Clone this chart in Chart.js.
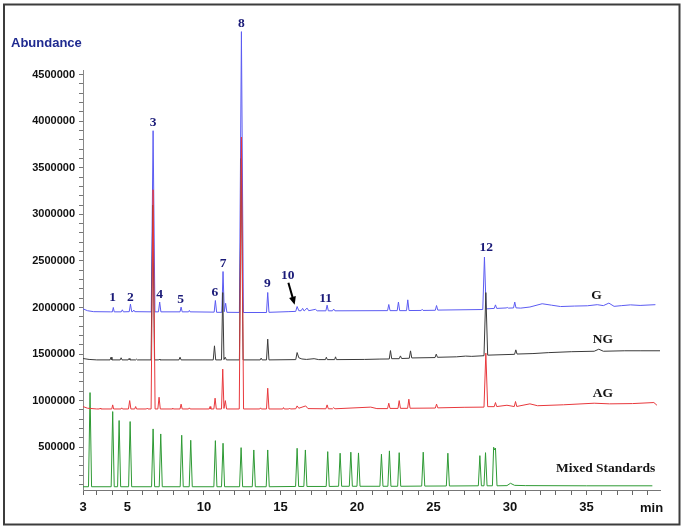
<!DOCTYPE html>
<html>
<head>
<meta charset="utf-8">
<script src="https://cdn.jsdelivr.net/npm/chart.js@4.4.1/dist/chart.umd.min.js"></script>
<style>
html, body { margin: 0; padding: 0; background: #fff; }
canvas { display: block; }
</style>
</head>
<body>
<canvas id="cromatograma" width="685" height="529"></canvas>
<script>
// [tiempo (min), abundancia en millones]
const trazaG = [
    [2.10,1.985],[2.4,1.965],[2.8,1.955],[3.9,1.953],[4.02,1.953],[4.08,2.000],[4.14,1.953],[4.6,1.953],[4.67,1.975],[4.74,1.953],
    [5.12,1.955],[5.20,2.036],[5.28,1.955],[5.36,1.956],[5.42,1.972],[5.48,1.955],[6.56,1.953],[6.68,3.898],[6.80,1.953],[7.03,1.953],
    [7.11,2.058],[7.19,1.953],[8.44,1.953],[8.51,2.004],[8.58,1.953],[9.0,1.953],[9.05,1.968],[9.10,1.953],[10.67,1.950],[10.75,2.075],
    [10.83,1.948],[11.17,1.948],[11.25,2.386],[11.33,1.955],[11.42,2.045],[11.5,1.948],[12.32,1.947],[12.45,4.962],[12.58,1.946],[14.09,1.946],
    [14.17,2.161],[14.25,1.948],[15.5,1.955],[16.0,1.958],[16.09,2.010],[16.2,1.965],[16.35,1.965],[16.45,1.990],[16.55,1.962],[16.74,1.993],
    [16.85,1.965],[17.29,1.980],[17.4,1.964],[17.97,1.964],[18.05,2.025],[18.13,1.964],[18.4,1.964],[18.48,1.983],[18.56,1.964],[22.0,1.966],
    [22.08,2.032],[22.16,1.966],[22.63,1.966],[22.71,2.058],[22.79,1.966],[23.24,1.966],[23.32,2.082],[23.4,1.967],[24.2,1.968],[24.26,1.980],
    [24.32,1.968],[25.12,1.970],[25.2,2.021],[25.28,1.972],[28.22,1.978],[28.33,2.541],[28.44,1.985],[28.97,1.990],[29.05,2.028],[29.13,1.990],
    [29.75,1.995],[29.82,2.000],[29.9,1.993],[30.23,1.995],[30.31,2.058],[30.39,1.996],[30.7,1.993],[31.3,2.005],[32.1,2.040],[32.7,2.025],
    [33.3,2.010],[34.2,2.015],[35.05,2.018],[35.7,2.030],[36.1,2.020],[36.46,2.047],[36.8,2.012],[37.3,2.020],[37.87,2.028],[38.5,2.022],[39.5,2.030]
];
const trazaNG = [
    [2.10,1.452],[2.5,1.442],[3.0,1.437],[3.87,1.437],[3.93,1.466],[3.99,1.437],[4.53,1.437],[4.59,1.460],[4.65,1.437],[5.05,1.437],
    [5.11,1.452],[5.17,1.437],[5.55,1.437],[5.6,1.445],[5.65,1.437],[6.55,1.437],[6.66,3.100],[6.77,1.437],[7.05,1.437],[7.09,1.445],
    [7.13,1.437],[8.37,1.437],[8.44,1.466],[8.51,1.437],[10.61,1.437],[10.69,1.588],[10.77,1.437],[11.15,1.437],[11.23,2.160],[11.31,1.440],
    [11.39,1.466],[11.47,1.437],[12.32,1.437],[12.44,3.600],[12.56,1.437],[13.68,1.437],[13.74,1.456],[13.80,1.437],[14.09,1.437],[14.17,1.660],
    [14.25,1.437],[16.0,1.440],[16.09,1.516],[16.2,1.460],[16.4,1.447],[16.7,1.442],[17.2,1.450],[17.5,1.440],[17.94,1.440],[18.0,1.466],
    [18.06,1.440],[18.54,1.440],[18.6,1.470],[18.66,1.440],[20.5,1.442],[21.5,1.446],[22.11,1.447],[22.19,1.537],[22.27,1.450],[22.76,1.450],
    [22.84,1.480],[22.92,1.452],[23.42,1.455],[23.5,1.534],[23.58,1.458],[25.1,1.462],[25.18,1.499],[25.26,1.465],[26.5,1.470],[27.1,1.478],
    [27.5,1.475],[28.3,1.482],[28.42,2.160],[28.54,1.488],[30.3,1.497],[30.38,1.545],[30.46,1.500],[31.5,1.505],[32.5,1.515],[34.0,1.525],
    [35.5,1.530],[35.8,1.552],[36.1,1.530],[37.5,1.535],[38.5,1.535],[39.8,1.535]
];
const trazaAG = [
    [2.10,0.936],[2.4,0.918],[3.0,0.910],[3.18,0.910],[3.22,0.920],[3.26,0.910],[3.98,0.910],[4.04,0.954],[4.10,0.910],[4.58,0.910],
    [4.63,0.922],[4.68,0.910],[5.07,0.910],[5.15,1.000],[5.23,0.910],[5.48,0.910],[5.54,0.936],[5.6,0.910],[6.25,0.910],[6.3,0.920],
    [6.35,0.910],[6.55,0.910],[6.68,3.264],[6.81,0.910],[6.99,0.910],[7.07,1.036],[7.15,0.910],[7.92,0.910],[7.96,0.920],[8.0,0.910],
    [8.44,0.910],[8.51,0.962],[8.58,0.910],[9.0,0.910],[9.05,0.922],[9.1,0.910],[10.35,0.910],[10.4,0.936],[10.45,0.910],[10.65,0.910],
    [10.73,1.026],[10.81,0.910],[11.15,0.910],[11.23,1.338],[11.31,0.915],[11.40,1.000],[11.48,0.910],[12.31,0.910],[12.45,3.830],[12.59,0.910],
    [13.65,0.910],[13.7,0.922],[13.75,0.910],[14.09,0.910],[14.17,1.133],[14.25,0.910],[15.15,0.910],[15.2,0.925],[15.25,0.910],[15.55,0.910],
    [15.6,0.920],[15.65,0.910],[16.0,0.912],[16.09,0.943],[16.2,0.918],[16.65,0.943],[16.8,0.914],[17.97,0.912],[18.05,0.954],[18.13,0.912],
    [18.4,0.912],[18.48,0.925],[18.56,0.912],[20.9,0.930],[21.3,0.914],[22.0,0.914],[22.08,0.972],[22.16,0.916],[22.68,0.916],[22.76,1.000],
    [22.84,0.917],[23.31,0.917],[23.39,1.015],[23.47,0.918],[25.12,0.920],[25.2,0.962],[25.28,0.922],[27.0,0.928],[28.3,0.930],[28.42,1.510],
    [28.54,0.935],[28.97,0.935],[29.05,0.979],[29.13,0.936],[29.8,0.950],[30.28,0.936],[30.36,0.990],[30.44,0.937],[31.3,0.965],[31.8,0.945],
    [33.5,0.955],[35.5,0.972],[36.5,0.965],[38.0,0.968],[39.4,0.979],[39.6,0.950]
];
const trazaPatrones = [
    [2.10,0.075],[2.46,0.075],[2.56,1.086],[2.66,0.075],[3.94,0.075],[4.04,0.882],[4.14,0.075],[4.36,0.075],[4.46,0.786],[4.56,0.075],
    [5.08,0.075],[5.18,0.775],[5.28,0.075],[6.58,0.075],[6.68,0.696],[6.78,0.075],[7.08,0.075],[7.18,0.642],[7.28,0.075],[8.45,0.075],
    [8.55,0.628],[8.65,0.075],[9.04,0.075],[9.14,0.574],[9.24,0.075],[10.65,0.075],[10.75,0.570],[10.85,0.075],[11.15,0.075],[11.25,0.542],
    [11.35,0.075],[12.33,0.075],[12.43,0.495],[12.53,0.075],[13.16,0.075],[13.26,0.470],[13.36,0.075],[14.07,0.075],[14.17,0.470],[14.27,0.075],
    [15.99,0.078],[16.09,0.488],[16.19,0.078],[16.53,0.078],[16.63,0.470],[16.73,0.078],[17.99,0.078],[18.09,0.452],[18.19,0.078],[18.8,0.080],
    [18.9,0.435],[19.0,0.080],[19.5,0.080],[19.6,0.446],[19.7,0.080],[20.0,0.080],[20.1,0.438],[20.2,0.080],[21.5,0.080],[21.6,0.424],
    [21.7,0.080],[22.02,0.080],[22.12,0.460],[22.22,0.080],[22.66,0.080],[22.76,0.441],[22.86,0.080],[24.23,0.082],[24.33,0.446],[24.43,0.082],
    [25.84,0.083],[25.94,0.435],[26.04,0.083],[27.93,0.085],[28.03,0.409],[28.13,0.085],[28.3,0.085],[28.4,0.441],[28.5,0.085],[28.85,0.085],
    [28.93,0.499],[29.0,0.470],[29.05,0.490],[29.15,0.085],[29.8,0.087],[30.03,0.112],[30.3,0.090],[31.0,0.087],[35.0,0.085],[39.3,0.085]
];

const xMarcas = [2.1, 5, 10, 15, 20, 25, 30, 35];
const xEtiquetas = ['3', '5', '10', '15', '20', '25', '30', '35'];
const yEtiquetas = [500000, 1000000, 1500000, 2000000, 2500000, 3000000, 3500000, 4000000, 4500000];

// numero de pico, tiempo, abundancia (millones) donde va el texto
const picos = [
    ['1', 4.04, 2.111], ['2', 5.2, 2.111], ['3', 6.68, 3.981], ['4', 7.1, 2.136],
    ['5', 8.48, 2.082], ['6', 10.72, 2.165], ['7', 11.25, 2.477], ['8', 12.45, 5.048],
    ['9', 14.15, 2.262], ['10', 15.48, 2.340], ['11', 17.96, 2.100], ['12', 28.45, 2.648]
];
const nombres = [
    ['G', 35.65, 2.125], ['NG', 36.07, 1.652], ['AG', 36.07, 1.080], ['Mixed Standards', 36.25, 0.266]
];
const flecha10 = [[15.52, 2.265], [15.93, 2.030]];

const aXY = arr => arr.map(p => ({ x: p[0], y: p[1] * 1e6 }));

const xTicks = [2.1];
for (let m = 3; m <= 39; m++) xTicks.push(m);
const yTicks = [];
for (let v = 100000; v <= 4500000; v += 100000) yTicks.push(v);

const anotaciones = {
    id: 'anotaciones',
    afterDraw(chart) {
        const c = chart.ctx;
        const sx = chart.scales.x, sy = chart.scales.y;
        const px = t => sx.getPixelForValue(t);
        const py = v => sy.getPixelForValue(v * 1e6);
        c.save();
        // marco
        c.strokeStyle = '#3c3c3c';
        c.lineWidth = 2;
        c.strokeRect(4, 4.5, 675.5, 520);

        c.fillStyle = '#1f2a90';
        c.font = 'bold 13px "Liberation Sans", Arial, sans-serif';
        c.textAlign = 'left';
        c.textBaseline = 'middle';
        c.fillText('Abundance', 11, 43);

        c.fillStyle = '#111';
        c.textAlign = 'center';
        c.fillText('min', px(39.25), chart.chartArea.bottom + 18);

        c.font = 'bold 13.5px "Liberation Serif", "Times New Roman", serif';
        c.fillStyle = '#1a1a78';
        picos.forEach(p => c.fillText(p[0], px(p[1]), py(p[2])));

        c.fillStyle = '#151515';
        nombres.forEach(n => c.fillText(n[0], px(n[1]), py(n[2])));

        // flecha del pico 10
        const x1 = px(flecha10[0][0]), y1 = py(flecha10[0][1]);
        const x2 = px(flecha10[1][0]), y2 = py(flecha10[1][1]);
        const ang = Math.atan2(y2 - y1, x2 - x1);
        c.strokeStyle = '#000';
        c.fillStyle = '#000';
        c.lineWidth = 2;
        c.beginPath();
        c.moveTo(x1, y1);
        c.lineTo(x2 - 5 * Math.cos(ang), y2 - 5 * Math.sin(ang));
        c.stroke();
        c.beginPath();
        c.moveTo(x2, y2);
        c.lineTo(x2 - 8 * Math.cos(ang) + 3.5 * Math.sin(ang), y2 - 8 * Math.sin(ang) - 3.5 * Math.cos(ang));
        c.lineTo(x2 - 8 * Math.cos(ang) - 3.5 * Math.sin(ang), y2 - 8 * Math.sin(ang) + 3.5 * Math.cos(ang));
        c.closePath();
        c.fill();
        c.restore();
    }
};

const ctx = document.getElementById('cromatograma').getContext('2d');
new Chart(ctx, {
    type: 'line',
    data: {
        datasets: [
            { label: 'G', data: aXY(trazaG), borderColor: '#5b5bf2', order: 3 },
            { label: 'NG', data: aXY(trazaNG), borderColor: '#3a3a3a', order: 2 },
            { label: 'AG', data: aXY(trazaAG), borderColor: '#e8383c', order: 1 },
            { label: 'Mixed Standards', data: aXY(trazaPatrones), borderColor: '#2e9a34', order: 4 }
        ]
    },
    options: {
        responsive: false,
        animation: false,
        events: [],
        elements: {
            point: { radius: 0 },
            line: { borderWidth: 1, tension: 0, fill: false }
        },
        datasets: { line: { clip: false } },
        layout: { padding: { left: 5, top: 70, right: 25, bottom: 9 } },
        plugins: { legend: { display: false }, tooltip: { enabled: false } },
        scales: {
            x: {
                type: 'linear',
                min: 2.1,
                max: 39.8,
                afterBuildTicks: s => { s.ticks = xTicks.map(v => ({ value: v })); },
                afterFit: s => { s.height = 30; },
                grid: { drawOnChartArea: false, tickLength: 5, color: '#666' },
                border: { color: '#777' },
                ticks: {
                    autoSkip: false,
                    maxRotation: 0,
                    padding: 5,
                    color: '#111',
                    font: { family: '"Liberation Sans", Arial, sans-serif', size: 13, weight: 'bold' },
                    callback: v => {
                        const i = xMarcas.indexOf(v);
                        return i >= 0 ? xEtiquetas[i] : '';
                    }
                }
            },
            y: {
                min: 40000,
                max: 4550000,
                afterBuildTicks: s => { s.ticks = yTicks.map(v => ({ value: v })); },
                afterFit: s => { s.width = 78; },
                grid: { drawOnChartArea: false, tickLength: 4, color: '#777' },
                border: { color: '#888' },
                ticks: {
                    autoSkip: false,
                    padding: 4,
                    color: '#111',
                    font: { family: '"Liberation Sans", Arial, sans-serif', size: 11, weight: 'bold' },
                    callback: v => yEtiquetas.includes(v) ? String(v) : ''
                }
            }
        }
    },
    plugins: [anotaciones]
});
</script>
</body>
</html>
